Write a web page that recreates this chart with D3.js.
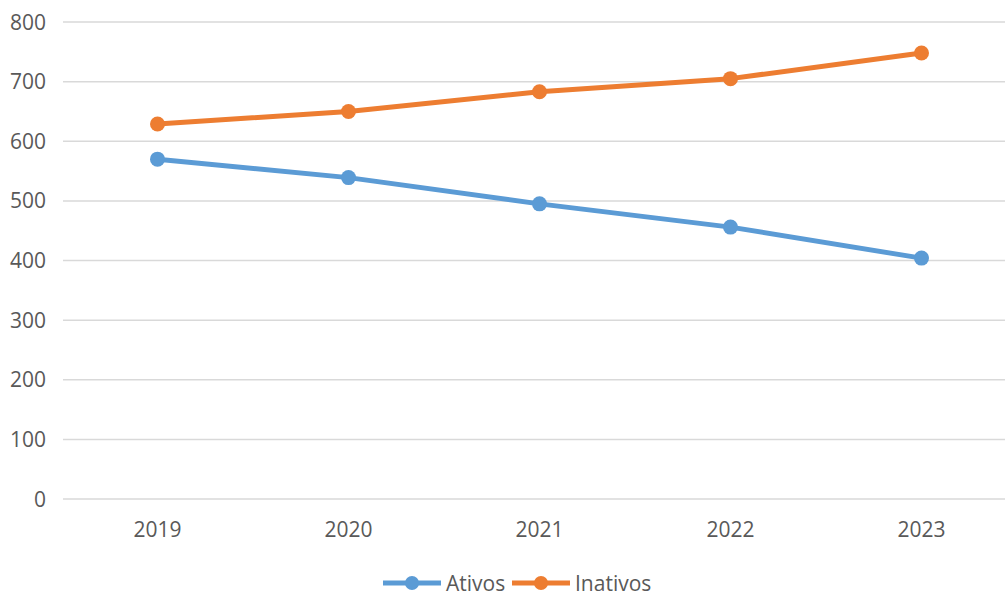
<!DOCTYPE html>
<meta charset="utf-8" />
<script src="https://d3js.org/d3.v7.min.js"></script>
<style>
  html, body { margin: 0; padding: 0; background: #fff; overflow: hidden; }
  text { font-family: "Open Sans", "Noto Sans", sans-serif; fill: #595959; }
</style>
<div id="chart"></div>
<script>
  var years = ["2019", "2020", "2021", "2022", "2023"];
  var ativos = [570, 539, 495, 456, 404];
  var inativos = [629, 650, 683, 705, 748];
  var yTicks = [0, 100, 200, 300, 400, 500, 600, 700, 800];
  var seriesNames = ["Ativos", "Inativos"];
  var colours = ["#5B9BD5", "#ED7D31"];

  var width = 1005;
  var height = 596;

  var svg = d3.select("#chart")
    .append("svg")
    .attr("width", width)
    .attr("height", height);

  var x = d3.scaleBand()
    .domain(years)
    .range([62, 1017])
    .padding(0);

  var y = d3.scaleLinear()
    .domain([0, 800])
    .range([499, 22]);

  // grid
  svg.append("g")
    .selectAll("line")
    .data(yTicks)
    .enter()
    .append("line")
    .attr("x1", 63)
    .attr("x2", width)
    .attr("y1", function(d) { return y(d); })
    .attr("y2", function(d) { return y(d); })
    .attr("stroke", "#d9d9d9")
    .attr("stroke-width", 1.5);

  // y labels
  svg.append("g")
    .selectAll("text")
    .data(yTicks)
    .enter()
    .append("text")
    .attr("x", 46)
    .attr("y", function(d) { return y(d); })
    .attr("dy", "0.36em")
    .attr("text-anchor", "end")
    .style("font-size", "21px")
    .text(function(d) { return d; });

  // x labels
  svg.append("g")
    .selectAll("text")
    .data(years)
    .enter()
    .append("text")
    .attr("x", function(d) { return x(d) + x.bandwidth() / 2; })
    .attr("y", 529)
    .attr("dy", "0.36em")
    .attr("text-anchor", "middle")
    .style("font-size", "21px")
    .text(function(d) { return d; });

  var series = [ativos, inativos];
  var line = d3.line()
    .x(function(d, i) { return x(years[i]) + x.bandwidth() / 2; })
    .y(function(d) { return y(d); });

  series.forEach(function(vals, s) {
    svg.append("path")
      .datum(vals)
      .attr("d", line)
      .attr("fill", "none")
      .attr("stroke", colours[s])
      .attr("stroke-width", 5)
      .attr("stroke-linejoin", "round")
      .attr("stroke-linecap", "round");

    svg.append("g")
      .selectAll("circle")
      .data(vals)
      .enter()
      .append("circle")
      .attr("cx", function(d, i) { return x(years[i]) + x.bandwidth() / 2; })
      .attr("cy", function(d) { return y(d); })
      .attr("r", 7.5)
      .attr("fill", colours[s]);
  });

  // legend
  var legendX = [383, 512];
  var legend = svg.append("g")
    .selectAll("g")
    .data(seriesNames)
    .enter()
    .append("g")
    .attr("transform", function(d, i) { return "translate(" + legendX[i] + ",583)"; });

  legend.append("line")
    .attr("x1", 0)
    .attr("x2", 58)
    .attr("stroke", function(d, i) { return colours[i]; })
    .attr("stroke-width", 5);

  legend.append("circle")
    .attr("cx", 29)
    .attr("r", 7)
    .attr("fill", function(d, i) { return colours[i]; });

  legend.append("text")
    .attr("x", 63)
    .attr("dy", "0.36em")
    .style("font-size", "21px")
    .text(function(d) { return d; });
</script>
